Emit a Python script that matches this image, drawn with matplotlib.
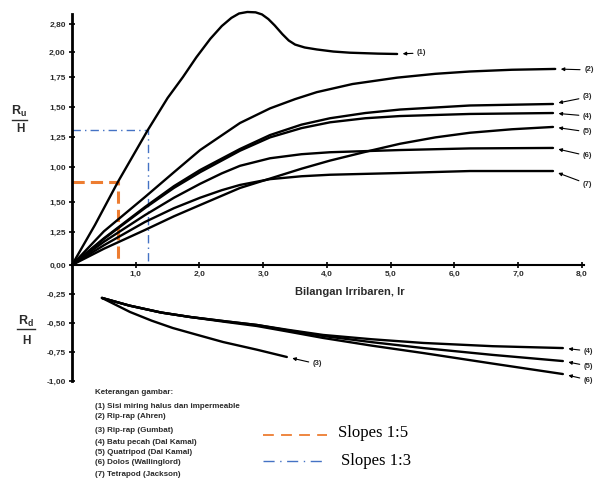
"""Run-up / run-down against the Iribarren number for several armour units."""

import matplotlib.pyplot as plt
from matplotlib.lines import Line2D

OUT = "out.png"

INK = "#2b2b2b"
ORANGE = "#ED7D31"
BLUE = "#4472C4"

# run-up curves, Ru/H
RU1_X = [0, 0.36, 0.72, 1.19, 1.5, 1.74, 1.95, 2.17, 2.35, 2.5, 2.62, 2.75, 2.88, 2.98,
         3.08, 3.18, 3.30, 3.40, 3.5, 3.65, 3.84, 4.1, 4.36, 4.8, 5.10]
RU1_Y = [0, 0.345, 0.716, 1.164, 1.44, 1.62, 1.79, 1.95, 2.06, 2.13, 2.168, 2.181, 2.178, 2.16,
         2.12, 2.065, 1.99, 1.935, 1.9, 1.875, 1.858, 1.84, 1.83, 1.822, 1.819]

RU2_X = [0, 0.5, 1.145, 1.6, 2.01, 2.635, 3.106, 3.5, 3.84, 4.4, 5.10, 5.7, 6.24, 6.9, 7.58]
RU2_Y = [0, 0.29, 0.586, 0.80, 0.991, 1.224, 1.35, 1.43, 1.49, 1.56, 1.615, 1.648, 1.668, 1.683, 1.69]

RU3_X = [0, 0.5, 1.145, 1.6, 2.01, 2.635, 3.106, 3.6, 4.047, 4.6, 5.145, 6.243, 7.545]
RU3_Y = [0, 0.23, 0.5, 0.68, 0.819, 1.0, 1.12, 1.21, 1.265, 1.31, 1.34, 1.375, 1.388]

RU4_X = [0, 0.5, 1.145, 1.6, 2.01, 2.635, 3.106, 3.6, 4.047, 4.6, 5.145, 6.243, 7.545]
RU4_Y = [0, 0.225, 0.491, 0.665, 0.80, 0.985, 1.10, 1.18, 1.23, 1.265, 1.284, 1.302, 1.31]

RU5_X = [0, 0.5, 1.145, 1.6, 2.01, 2.635, 3.106, 3.6, 4.047, 4.675, 5.145, 5.7, 6.243, 6.9, 7.545]
RU5_Y = [0, 0.14, 0.302, 0.42, 0.517, 0.664, 0.745, 0.83, 0.9, 0.985, 1.045, 1.10, 1.14, 1.17, 1.19]

RU6_X = [0, 0.5, 1.145, 1.6, 2.01, 2.35, 2.635, 3.106, 3.6, 4.047, 5.145, 6.243, 7.545]
RU6_Y = [0, 0.2, 0.43, 0.58, 0.70, 0.79, 0.855, 0.92, 0.955, 0.972, 0.991, 1.005, 1.009]

RU7_X = [0, 0.5, 1.145, 1.6, 2.01, 2.35, 2.635, 3.106, 3.6, 4.047, 5.145, 6.243, 7.545]
RU7_Y = [0, 0.17, 0.371, 0.49, 0.58, 0.645, 0.69, 0.74, 0.765, 0.778, 0.793, 0.81, 0.81]

# run-down curves, Rd/H
RD3_X = [0.47, 0.91, 1.25, 1.58, 1.95, 2.37, 2.9, 3.37]
RD3_Y = [-0.284, -0.405, -0.48, -0.543, -0.60, -0.664, -0.73, -0.793]

RD_X = [0.47, 0.9, 1.4, 1.85, 2.4, 2.9, 3.4, 3.94, 4.7, 5.51, 6.6, 7.70]
RD4_Y = [-0.284, -0.35, -0.41, -0.448, -0.485, -0.517, -0.56, -0.603, -0.64, -0.672, -0.70, -0.716]
RD5_Y = [-0.284, -0.35, -0.41, -0.448, -0.485, -0.517, -0.565, -0.612, -0.665, -0.716, -0.775, -0.828]
RD6_Y = [-0.284, -0.35, -0.41, -0.448, -0.49, -0.526, -0.575, -0.629, -0.695, -0.759, -0.85, -0.94]

# slope markers on curve (1)
SLOPE_15 = (0.72, 0.716)
SLOPE_13 = (1.19, 1.164)

X_TICKS = [1, 2, 3, 4, 5, 6, 7, 8]
X_LABELS = ["1,0", "2,0", "3,0", "4,0", "5,0", "6,0", "7,0", "8,0"]
Y_TICKS = [-1.0, -0.75, -0.5, -0.25, 0, 0.284, 0.543, 0.845, 1.103, 1.362, 1.621, 1.836, 2.078]
Y_LABELS = ["-1,00", "-0,75", "-0,50", "-0,25", "0,00", "1,25", "1,50", "1,00",
            "1,25", "1,50", "1,75", "2,00", "2,80"]

NOTES = [
    "(1) Sisi miring halus dan impermeable",
    "(2) Rip-rap (Ahren)",
    "(3) Rip-rap (Gumbat)",
    "(4) Batu pecah (Dal Kamal)",
    "(5) Quatripod (Dal Kamal)",
    "(6) Dolos (Wallinglord)",
    "(7) Tetrapod (Jackson)",
]


def px(x, y):
    """Figure fraction from pixel position (origin top left)."""
    return x / 595, 1 - y / 480


def draw_curves(ax):
    series = [
        (RU1_X, RU1_Y, "(1)", (20, 1)),
        (RU2_X, RU2_Y, "(2)", (29, -1)),
        (RU3_X, RU3_Y, "(3)", (30, 7)),
        (RU4_X, RU4_Y, "(4)", (30, -3)),
        (RU5_X, RU5_Y, "(5)", (30, -5)),
        (RU6_X, RU6_Y, "(6)", (30, -8)),
        (RU7_X, RU7_Y, "(7)", (30, -13)),
        (RD3_X, RD3_Y, "(3)", (26, -7)),
        (RD_X, RD4_Y, "(4)", (21, -3)),
        (RD_X, RD5_Y, "(5)", (21, -5)),
        (RD_X, RD6_Y, "(6)", (21, -6)),
    ]
    for xs, ys, label, offset in series:
        ax.plot(xs, ys, color="black", lw=1.7, clip_on=False,
                solid_capstyle="round", solid_joinstyle="round")
        ax.annotate(
            label,
            xy=(xs[-1], ys[-1]),
            xytext=offset,
            textcoords="offset pixels",
            ha="left",
            va="center",
            fontsize=5.5,
            fontweight="bold",
            color=INK,
            annotation_clip=False,
            arrowprops=dict(arrowstyle="-|>", color="black", lw=0.8,
                            shrinkA=1, shrinkB=4, mutation_scale=5),
        )


def draw_slopes(ax):
    sx, sy = SLOPE_15
    ax.plot([0, sx, sx], [sy, sy, 0], color=ORANGE, lw=2.2, ls=(0, (4, 2)))
    sx, sy = SLOPE_13
    ax.plot([0, sx, sx], [sy, sy, 0], color=BLUE, lw=1.0, ls=(0, (6, 3, 1, 3)))


def style_axes(ax):
    ax.set_xlim(0, 8.03)
    ax.set_ylim(-1.0, 2.16)
    for side in ["top", "right"]:
        ax.spines[side].set_visible(False)
    ax.spines["bottom"].set_position(("data", 0))
    ax.spines["left"].set_linewidth(2.0)
    ax.spines["bottom"].set_linewidth(1.5)

    ax.set_xticks(X_TICKS)
    ax.set_xticklabels(X_LABELS)
    ax.set_yticks(Y_TICKS)
    ax.set_yticklabels(Y_LABELS)
    ax.tick_params(direction="inout", length=5, width=1.2, colors="black",
                   labelsize=6, labelcolor=INK, pad=2)
    for lab in ax.get_xticklabels() + ax.get_yticklabels():
        lab.set_fontweight("bold")


def draw_texts(fig):
    bold = dict(fontweight="bold", color=INK)

    # Ru / H
    fig.text(*px(19, 111), r"$\mathbf{R_u}$", ha="center", va="center", fontsize=9, **bold)
    fig.add_artist(Line2D(*zip(px(12, 120), px(27, 120)), color=INK, lw=1.0))
    fig.text(*px(20, 129), "H", ha="center", va="center", fontsize=8.5, **bold)

    # Rd / H
    fig.text(*px(26, 321), r"$\mathbf{R_d}$", ha="center", va="center", fontsize=9, **bold)
    fig.add_artist(Line2D(*zip(px(17, 329), px(35, 329)), color=INK, lw=1.0))
    fig.text(*px(26, 341), "H", ha="center", va="center", fontsize=8.5, **bold)

    fig.text(*px(350, 292), "Bilangan Irribaren, Ir", ha="center", va="center",
             fontsize=8, **bold)

    fig.text(*px(95, 393), "Keterangan gambar:", ha="left", va="center", fontsize=5.8, **bold)
    rows = [406, 417, 430, 443, 452, 462, 474]
    for note, row in zip(NOTES, rows):
        fig.text(*px(95, row), note, ha="left", va="center", fontsize=5.8, **bold)

    fig.add_artist(Line2D(*zip(px(263, 435), px(327, 435)), color=ORANGE, lw=1.3,
                          ls=(0, (6, 4))))
    fig.text(*px(338, 433), "Slopes 1:5", ha="left", va="center",
             fontsize=12, family="Liberation Serif", color="black")
    fig.add_artist(Line2D(*zip(px(263, 461), px(323, 461)), color=BLUE, lw=1.0,
                          ls=(0, (8, 4, 1, 4))))
    fig.text(*px(341, 461), "Slopes 1:3", ha="left", va="center",
             fontsize=12, family="Liberation Serif", color="black")


def main() -> None:
    plt.rcParams["font.family"] = ["Liberation Sans", "DejaVu Sans"]
    plt.rcParams["mathtext.fontset"] = "custom"
    plt.rcParams["mathtext.bf"] = "Liberation Sans:bold"
    plt.rcParams["mathtext.rm"] = "Liberation Sans"

    fig = plt.figure(figsize=(5.95, 4.8), dpi=100)
    ax = fig.add_axes([72 / 595, 0.20625, 511.9 / 595, 0.7637])

    draw_slopes(ax)
    draw_curves(ax)
    style_axes(ax)
    draw_texts(fig)

    fig.savefig(OUT, dpi=100)
    plt.close(fig)


if __name__ == "__main__":
    main()
